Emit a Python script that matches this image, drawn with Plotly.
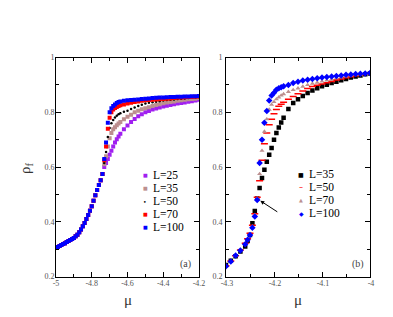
import plotly.graph_objects as go

# ---------------- Panel (a) data ----------------
mu_a = [-5.00, -4.99, -4.98, -4.97, -4.96, -4.95, -4.94, -4.93, -4.92, -4.91, -4.90, -4.89, -4.88,
        -4.87, -4.86, -4.85, -4.84, -4.83, -4.82, -4.81, -4.80, -4.79, -4.78, -4.77, -4.76,
        -4.75, -4.74, -4.73, -4.72, -4.71, -4.70, -4.69, -4.68, -4.67, -4.66, -4.65, -4.64,
        -4.62, -4.60, -4.58, -4.56, -4.54, -4.52, -4.50, -4.48, -4.46, -4.44, -4.42, -4.40,
        -4.38, -4.36, -4.34, -4.32, -4.30, -4.28, -4.26, -4.24, -4.22, -4.20]

rho_a_low = [0.305, 0.308, 0.312, 0.315, 0.319, 0.322, 0.326, 0.330, 0.334, 0.337, 0.341, 0.347, 0.353,
             0.362, 0.372, 0.384, 0.396, 0.410, 0.425, 0.441, 0.457, 0.477, 0.497, 0.516, 0.535,
             0.552, 0.575]

rho_a_L25 = rho_a_low + [0.600, 0.615, 0.630, 0.645, 0.660, 0.675, 0.690, 0.702, 0.712, 0.722,
                         0.738, 0.752, 0.765, 0.776, 0.786, 0.793, 0.800, 0.805, 0.810, 0.814, 0.818,
                         0.821, 0.824, 0.827, 0.830, 0.832, 0.834, 0.836, 0.839, 0.841, 0.843, 0.846]
rho_a_L35 = rho_a_low + [0.610, 0.640, 0.675, 0.705, 0.725, 0.738, 0.746, 0.753, 0.759, 0.765,
                         0.775, 0.784, 0.791, 0.800, 0.806, 0.811, 0.815, 0.819, 0.823, 0.827, 0.830,
                         0.833, 0.836, 0.838, 0.840, 0.842, 0.844, 0.846, 0.848, 0.849, 0.850, 0.852]
rho_a_L50 = rho_a_low + [0.615, 0.655, 0.710, 0.743, 0.760, 0.772, 0.781, 0.788, 0.793, 0.797,
                         0.802, 0.806, 0.812, 0.818, 0.823, 0.828, 0.832, 0.835, 0.837, 0.839, 0.841,
                         0.843, 0.845, 0.846, 0.847, 0.849, 0.850, 0.851, 0.852, 0.853, 0.854, 0.855]
rho_a_L70 = rho_a_low + [0.625, 0.675, 0.740, 0.780, 0.800, 0.810, 0.816, 0.820, 0.823, 0.826,
                         0.829, 0.832, 0.835, 0.838, 0.840, 0.842, 0.844, 0.845, 0.846, 0.847, 0.848,
                         0.849, 0.850, 0.851, 0.852, 0.853, 0.854, 0.855, 0.856, 0.856, 0.857, 0.858]
rho_a_L100 = rho_a_low + [0.630, 0.690, 0.762, 0.800, 0.815, 0.823, 0.829, 0.834, 0.838, 0.840,
                          0.842, 0.844, 0.845, 0.846, 0.847, 0.849, 0.850, 0.851, 0.852, 0.853, 0.854,
                          0.854, 0.855, 0.856, 0.856, 0.857, 0.857, 0.858, 0.858, 0.859, 0.859, 0.860]

# ---------------- Panel (b) data ----------------
mu_b = [-4.30, -4.29, -4.28, -4.27, -4.26,
        -4.255, -4.25, -4.245, -4.24, -4.235, -4.23, -4.225, -4.22, -4.215, -4.21, -4.205, -4.20,
        -4.195, -4.19, -4.185, -4.18,
        -4.17, -4.16, -4.15, -4.14, -4.13, -4.12, -4.11, -4.10, -4.09, -4.08, -4.07, -4.06,
        -4.05, -4.04, -4.03, -4.02, -4.01, -4.00]

rho_b_L35 = [0.242, 0.258, 0.274, 0.292, 0.310,
             0.330, 0.352, 0.395, 0.440, 0.485, 0.524, 0.560, 0.590, 0.620, 0.645, 0.670, 0.700,
             0.725, 0.745, 0.763, 0.780,
             0.812, 0.834, 0.848, 0.860, 0.871, 0.880, 0.888, 0.895, 0.901, 0.907, 0.912, 0.917,
             0.922, 0.927, 0.931, 0.935, 0.939, 0.942]
rho_b_L50 = [0.240, 0.257, 0.276, 0.297, 0.322,
             0.338, 0.358, 0.388, 0.430, 0.490, 0.550, 0.625, 0.685, 0.725, 0.755, 0.775, 0.795,
             0.810, 0.822, 0.830, 0.837,
             0.848, 0.858, 0.868, 0.878, 0.887, 0.894, 0.899, 0.904, 0.908, 0.913, 0.918, 0.922,
             0.926, 0.930, 0.934, 0.937, 0.940, 0.943]
rho_b_L70 = [0.240, 0.256, 0.276, 0.296, 0.320,
             0.336, 0.355, 0.383, 0.425, 0.485, 0.575, 0.660, 0.730, 0.775, 0.810, 0.828, 0.838,
             0.848, 0.855, 0.862, 0.867,
             0.875, 0.882, 0.888, 0.894, 0.900, 0.905, 0.909, 0.913, 0.917, 0.921, 0.925, 0.928,
             0.931, 0.934, 0.937, 0.939, 0.941, 0.943]
rho_b_L100 = [0.238, 0.255, 0.277, 0.295, 0.318,
              0.335, 0.352, 0.378, 0.420, 0.480, 0.615, 0.700, 0.762, 0.805, 0.843, 0.862, 0.872,
              0.883, 0.888, 0.892, 0.895,
              0.900, 0.907, 0.912, 0.916, 0.919, 0.922, 0.925, 0.927, 0.929, 0.931, 0.933, 0.935,
              0.937, 0.938, 0.940, 0.941, 0.942, 0.944]

# ---------------- Ticks ----------------
xa_tickvals = [-5.0, -4.8, -4.6, -4.4, -4.2]
xa_ticktext = ["-5", "-4.8", "-4.6", "-4.4", "-4.2"]
xb_tickvals = [-4.3, -4.2, -4.1, -4.0]
xb_ticktext = ["-4.3", "-4.2", "-4.1", "-4"]
y_tickvals = [0.2, 0.4, 0.6, 0.8, 1.0]
y_ticktext = ["0.2", "0.4", "0.6", "0.8", "1"]

SERIF = "Liberation Serif, Times New Roman, serif"
W, H = 393, 317

fig = go.Figure()

# name, values, colour, symbol, size, legend glyph, glyph size
a_series = [
    ("L=25", rho_a_L25, "#a020f0", "square", 4, "■", 5),
    ("L=35", rho_a_L35, "#bc8f8f", "square", 4, "■", 5),
    ("L=50", rho_a_L50, "#000000", "circle", 2.5, "•", 6),
    ("L=70", rho_a_L70, "#ff0000", "square", 4, "■", 5),
    ("L=100", rho_a_L100, "#0000ff", "square", 4, "■", 5),
]
for name, ys, col, sym, sz, g, gs in a_series:
    fig.add_trace(go.Scatter(x=mu_a, y=ys, mode="markers", name=name, showlegend=False,
                             marker=dict(color=col, symbol=sym, size=sz, line=dict(width=0)),
                             xaxis="x", yaxis="y"))

b_series = [
    ("L=35", rho_b_L35, "#000000", "square", 4.5, "■", 6),
    ("L=50", rho_b_L50, "#ff0000", "line-ew", 5, "–", 8),
    ("L=70", rho_b_L70, "#bc8f8f", "triangle-up", 4.5, "▲", 5),
    ("L=100", rho_b_L100, "#0000ff", "diamond", 5, "◆", 6),
]
for name, ys, col, sym, sz, g, gs in b_series:
    mk = dict(color=col, symbol=sym, size=sz, line=dict(width=0))
    if sym == "line-ew":
        mk["line"] = dict(color=col, width=1.5)
    fig.add_trace(go.Scatter(x=mu_b, y=ys, mode="markers", name=name, marker=mk, showlegend=False,
                             xaxis="x2", yaxis="y2"))

axis_common = dict(
    showgrid=False, zeroline=False, showline=True, linecolor="black", linewidth=1,
    mirror="allticks", ticks="inside", ticklen=5, tickwidth=1, tickcolor="black",
    tickfont=dict(family=SERIF, size=8, color="#555555"), automargin=False,
)

annotations = []
# hand-built legends (compact spacing like the reference)
LEG_FONT = 11.5
legend_a_rows = [167, 180, 193, 206, 219]
for (name, ys, col, sym, sz, g, gs), py in zip(a_series, legend_a_rows):
    annotations.append(dict(text=g, x=137 / W, y=1 - py / H, xref="paper", yref="paper",
                            xanchor="center", yanchor="middle", showarrow=False,
                            font=dict(family="DejaVu Sans", size=gs, color=col)))
    annotations.append(dict(text=name, x=144 / W, y=1 - py / H, xref="paper", yref="paper",
                            xanchor="left", yanchor="middle", showarrow=False, borderpad=0,
                            font=dict(family=SERIF, size=LEG_FONT, color="black")))
legend_b_rows = [166, 179, 192, 205]
for (name, ys, col, sym, sz, g, gs), py in zip(b_series, legend_b_rows):
    annotations.append(dict(text=g, x=293 / W, y=1 - py / H, xref="paper", yref="paper",
                            xanchor="center", yanchor="middle", showarrow=False,
                            font=dict(family="DejaVu Sans", size=gs, color=col)))
    annotations.append(dict(text=name, x=300 / W, y=1 - py / H, xref="paper", yref="paper",
                            xanchor="left", yanchor="middle", showarrow=False, borderpad=0,
                            font=dict(family=SERIF, size=LEG_FONT, color="black")))

annotations += [
    dict(text="(a)", x=-4.275, y=0.246, xref="x", yref="y", showarrow=False,
         font=dict(family=SERIF, size=10, color="#444")),
    dict(text="(b)", x=-4.025, y=0.246, xref="x2", yref="y2", showarrow=False,
         font=dict(family=SERIF, size=10, color="#444")),
    # axis titles
    dict(text="μ", x=(48 + 191) / 2 / W, y=1 - 292 / H, xref="paper", yref="paper",
         xanchor="center", yanchor="middle", showarrow=False,
         font=dict(family=SERIF, size=15, color="#333")),
    dict(text="μ", x=(218 + 362) / 2 / W, y=1 - 292 / H, xref="paper", yref="paper",
         xanchor="center", yanchor="middle", showarrow=False,
         font=dict(family=SERIF, size=15, color="#333")),
    dict(text="ρ<sub>f</sub>", x=18 / W, y=1 - 160 / H, xref="paper", yref="paper",
         xanchor="center", yanchor="middle", showarrow=False, textangle=-90,
         font=dict(family=SERIF, size=15, color="#333")),
    # arrow in panel (b)
    dict(text="", x=-4.2285, y=0.477, xref="x2", yref="y2",
         ax=-4.19, ay=0.433, axref="x2", ayref="y2",
         showarrow=True, arrowhead=2, arrowsize=0.8, arrowwidth=1, arrowcolor="black"),
]

fig.update_layout(
    width=W, height=H,
    margin=dict(l=0, r=0, t=0, b=0),
    paper_bgcolor="white", plot_bgcolor="white",
    showlegend=False,
    xaxis=dict(domain=[48 / W, 191 / W], range=[-5.0, -4.2],
               tickvals=xa_tickvals, ticktext=xa_ticktext, ticklabelstandoff=-1,
               minor=dict(ticks="inside", ticklen=3, dtick=0.1, tick0=-5.0, tickcolor="black"),
               anchor="y", **axis_common),
    yaxis=dict(domain=[1 - 268.6 / H, 1 - 49.6 / H], range=[0.2, 1.0],
               tickvals=y_tickvals, ticktext=y_ticktext, ticklabelstandoff=-1,
               minor=dict(ticks="inside", ticklen=3, dtick=0.1, tick0=0.2, tickcolor="black"),
               anchor="x", **axis_common),
    xaxis2=dict(domain=[218 / W, 362 / W], range=[-4.3, -4.0],
                tickvals=xb_tickvals, ticktext=xb_ticktext, ticklabelstandoff=-1, ticklabelshift=1,
                minor=dict(ticks="inside", ticklen=3, dtick=0.05, tick0=-4.3, tickcolor="black"),
                anchor="y2", **axis_common),
    yaxis2=dict(domain=[1 - 268.6 / H, 1 - 49.6 / H], range=[0.2, 1.0],
                tickvals=y_tickvals, ticktext=y_ticktext, ticklabelstandoff=1,
                minor=dict(ticks="inside", ticklen=3, dtick=0.1, tick0=0.2, tickcolor="black"),
                anchor="x2", **axis_common),
    annotations=annotations,
)

fig.write_html("out.html")
